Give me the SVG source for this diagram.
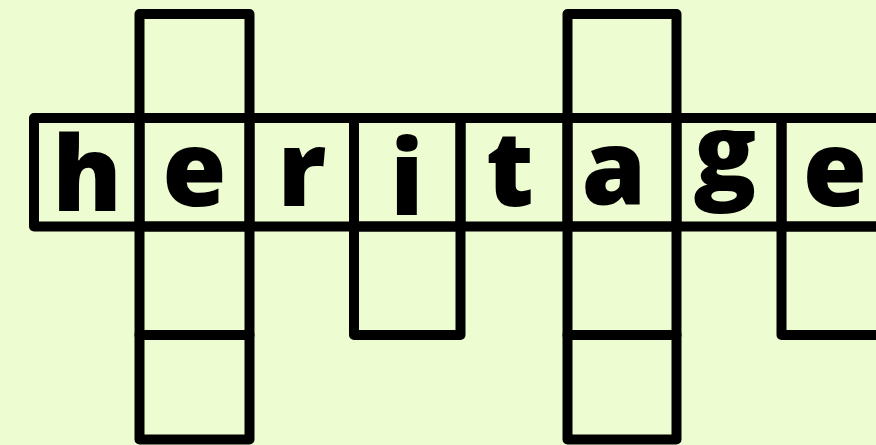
<svg xmlns="http://www.w3.org/2000/svg" width="876" height="445" viewBox="0 0 876 445">
<style>
.c{fill:none;stroke:#000;stroke-width:10;stroke-linejoin:round}
.l{font-family:"Open Sans","Noto Sans",sans-serif;font-weight:800;font-size:104px;fill:#000;text-anchor:middle}
</style>
<rect width="876" height="445" fill="#edfdd1"/>
<g id="top-e"><rect class="c" x="139.5" y="14" width="110" height="104"/></g>
<g id="top-a"><rect class="c" x="567.5" y="14" width="109" height="104"/></g>
<g id="cell-h"><rect class="c" x="34" y="118" width="105.5" height="108.5"/><text class="l" x="87" y="211">h</text></g>
<g id="cell-e1"><rect class="c" x="139.5" y="118" width="110" height="108.5"/><text class="l" x="194.5" y="206">e</text></g>
<g id="cell-r"><rect class="c" x="249.5" y="118" width="104.5" height="108.5"/><text class="l" x="302" y="206">r</text></g>
<g id="cell-i"><rect class="c" x="354" y="118" width="106.5" height="108.5"/><text class="l" x="407" y="215">i</text></g>
<g id="cell-t"><rect class="c" x="460.5" y="118" width="107" height="108.5"/><text class="l" x="510" y="206">t</text></g>
<g id="cell-a"><rect class="c" x="567.5" y="118" width="109" height="108.5"/><text class="l" x="614" y="205">a</text></g>
<g id="cell-g"><rect class="c" x="676.5" y="118" width="105" height="108.5"/><text class="l" x="725" y="189">g</text></g>
<g id="cell-e2"><rect class="c" x="781.5" y="118" width="106.5" height="108.5"/><text class="l" x="835" y="206">e</text></g>
<g id="down-e1"><rect class="c" x="139.5" y="226.5" width="110" height="108.5"/></g>
<g id="down-e2"><rect class="c" x="139.5" y="335" width="110" height="104.5"/></g>
<g id="down-i"><rect class="c" x="354" y="226.5" width="106.5" height="108.5"/></g>
<g id="down-a1"><rect class="c" x="567.5" y="226.5" width="109" height="108.5"/></g>
<g id="down-a2"><rect class="c" x="567.5" y="335" width="109" height="104.5"/></g>
<g id="down-e3"><rect class="c" x="781.5" y="226.5" width="106.5" height="108.5"/></g>
</svg>
